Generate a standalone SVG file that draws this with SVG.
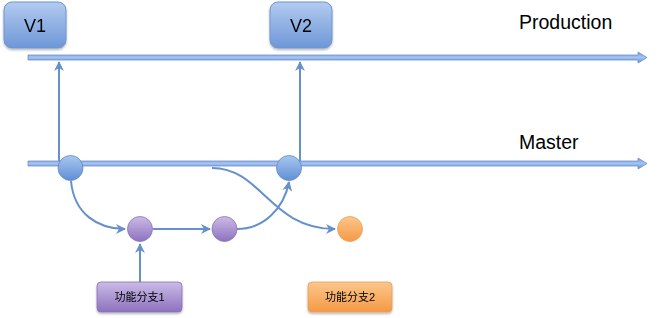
<svg xmlns="http://www.w3.org/2000/svg" width="667" height="318" viewBox="0 0 667 318">
<style>
.lbl{font-family:"Liberation Sans","Noto Sans CJK SC",sans-serif;fill:#000}
.ver{font-size:18px}
.big{font-size:19.5px}
.cn{font-family:"Liberation Sans","Noto Sans CJK SC",sans-serif;font-size:11px;fill:#000}
.conn{fill:none;stroke:#6690cc;stroke-width:2}
</style>
<defs>
<linearGradient id="gBox" x1="0" y1="0" x2="0" y2="1"><stop offset="0" stop-color="#b3cbef"/><stop offset="1" stop-color="#6e97d8"/></linearGradient>
<linearGradient id="gBlue" x1="0" y1="0" x2="0" y2="1"><stop offset="0" stop-color="#a9c7f0"/><stop offset="1" stop-color="#5f8fd6"/></linearGradient>
<linearGradient id="gPur" x1="0" y1="0" x2="0" y2="1"><stop offset="0" stop-color="#cbbbe6"/><stop offset="1" stop-color="#8d72bf"/></linearGradient>
<linearGradient id="gOra" x1="0" y1="0" x2="0" y2="1"><stop offset="0" stop-color="#fcc68a"/><stop offset="1" stop-color="#f49a45"/></linearGradient>
<linearGradient id="gLine" x1="0" y1="0" x2="0" y2="1"><stop offset="0" stop-color="#6f99dc"/><stop offset="0.5" stop-color="#a6c3ee"/><stop offset="1" stop-color="#5f8ad0"/></linearGradient>
<marker id="ah" viewBox="0 0 10 10" refX="9" refY="5" markerWidth="5" markerHeight="5" orient="auto" markerUnits="strokeWidth"><path d="M0,0 L10,5 L0,10 L3,5 Z" fill="#6690cc"/></marker>
<filter id="sh" x="-20%" y="-20%" width="140%" height="150%"><feDropShadow dx="0" dy="1.5" stdDeviation="1.2" flood-color="#000" flood-opacity="0.3"/></filter>
</defs>

<g id="connectors">
<path class="conn" d="M59 163 L59 62" marker-end="url(#ah)"/>
<path class="conn" d="M300 163 L300 62" marker-end="url(#ah)"/>
<path class="conn" d="M71 181 C74 214 98 229 125 229" marker-end="url(#ah)"/>
<path class="conn" d="M153 229 L210 229" marker-end="url(#ah)"/>
<path class="conn" d="M237 229 C264 229 284 208 289 182" marker-end="url(#ah)"/>
<path class="conn" d="M212 168 C262 168 270 229 335 229" marker-end="url(#ah)"/>
<path class="conn" d="M140 282 L140 244" marker-end="url(#ah)"/>
</g>

<g id="production-line">
<path d="M28 55 L638 55 L638 52 L647 57.5 L638 63 L638 60 L28 60 Z" fill="url(#gLine)" stroke="#6a93d0" stroke-width="0.8"/>
</g>
<g id="master-line">
<path d="M28 161 L638 161 L638 158 L647 163.5 L638 169 L638 166 L28 166 Z" fill="url(#gLine)" stroke="#6a93d0" stroke-width="0.8"/>
</g>

<g id="v1" filter="url(#sh)">
<rect x="4" y="2" width="62" height="46" rx="8" fill="url(#gBox)" stroke="#6f95d0" stroke-width="1"/>
<text class="lbl ver" x="35" y="32" text-anchor="middle">V1</text>
</g>
<g id="v2" filter="url(#sh)">
<rect x="270" y="2" width="62" height="46" rx="8" fill="url(#gBox)" stroke="#6f95d0" stroke-width="1"/>
<text class="lbl ver" x="301" y="32" text-anchor="middle">V2</text>
</g>

<g id="production-label"><text class="lbl big" x="519" y="29">Production</text></g>
<g id="master-label"><text class="lbl big" x="519" y="149">Master</text></g>

<g id="master-node-1"><circle cx="70.5" cy="168" r="12.5" fill="url(#gBlue)" stroke="#5f88c8" stroke-width="0.8"/></g>
<g id="master-node-2"><circle cx="289" cy="168" r="12.5" fill="url(#gBlue)" stroke="#5f88c8" stroke-width="0.8"/></g>
<g id="feature1-node-1"><circle cx="140" cy="229" r="12.5" fill="url(#gPur)" stroke="#8a72b8" stroke-width="0.8"/></g>
<g id="feature1-node-2"><circle cx="224.5" cy="229" r="12.5" fill="url(#gPur)" stroke="#8a72b8" stroke-width="0.8"/></g>
<g id="feature2-node"><circle cx="350" cy="229" r="12.5" fill="url(#gOra)" stroke="#e8a060" stroke-width="0.8"/></g>

<g id="feature1-label" filter="url(#sh)">
<rect x="97" y="282" width="85" height="30" rx="4" fill="url(#gPur)" stroke="#8a72b8" stroke-width="0.8"/>
<text class="cn" x="139.5" y="301" text-anchor="middle">功能分支1</text>
</g>
<g id="feature2-label" filter="url(#sh)">
<rect x="308" y="282" width="84" height="30" rx="4" fill="url(#gOra)" stroke="#e8a060" stroke-width="0.8"/>
<text class="cn" x="350" y="301" text-anchor="middle">功能分支2</text>
</g>
</svg>
